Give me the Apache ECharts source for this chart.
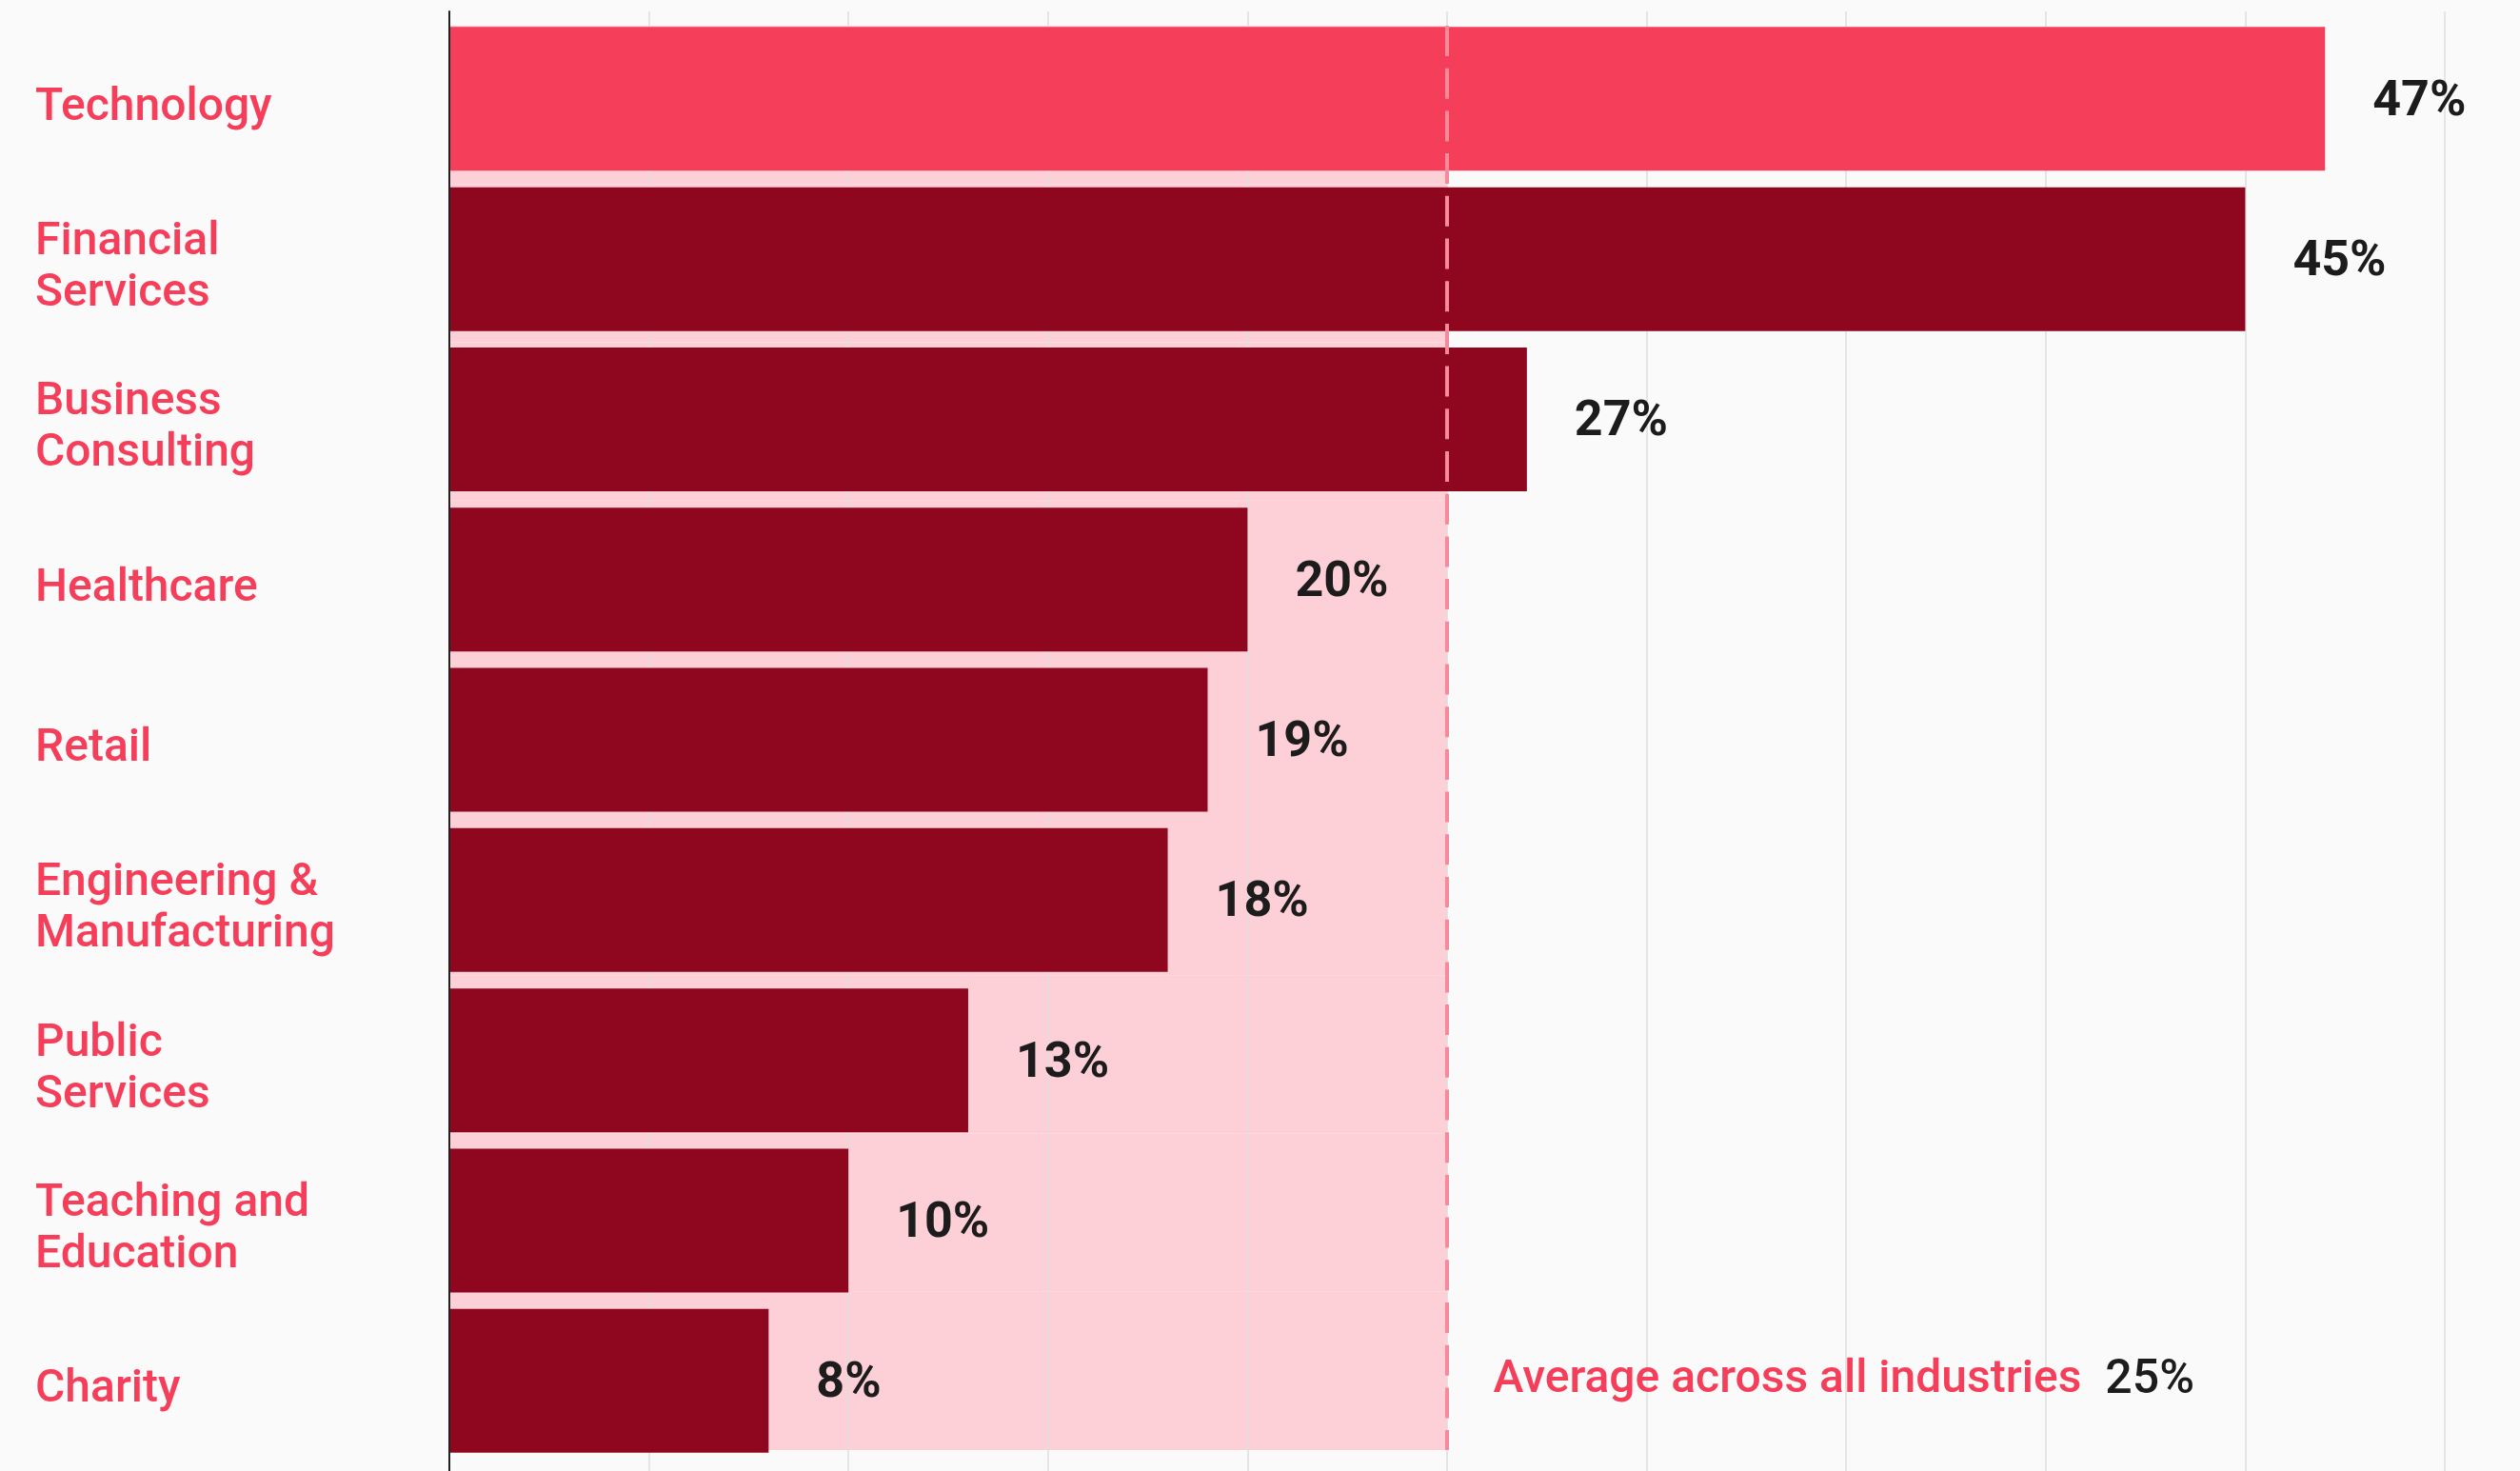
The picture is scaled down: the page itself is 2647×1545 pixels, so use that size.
<!DOCTYPE html>
<html>
<head>
<meta charset="utf-8">
<script src="https://cdn.jsdelivr.net/npm/echarts@6/dist/echarts.min.js"></script>
<style>
  html, body { margin: 0; padding: 0; background: #fafafa; }
  #chart { width: 2647px; height: 1545px; }
</style>
</head>
<body>
<div id="chart"></div>
<script>
// Share of respondents by industry (%)
const categories = [
  'Technology',
  'Financial\nServices',
  'Business\nConsulting',
  'Healthcare',
  'Retail',
  'Engineering &\nManufacturing',
  'Public\nServices',
  'Teaching and\nEducation',
  'Charity'
];
const shares = [47, 45, 27, 20, 19, 18, 13, 10, 8];
const averageShare = 25;
const averageLabel = 'Average across all industries';

// Value axis: 0–50 with a gridline every 5
const axisMin = 0;
const axisMax = 50;
const axisStep = 5;

const FONT = 'Roboto, "Noto Sans", sans-serif';
const ACCENT = '#f53e5a';
const DARK = '#8e071e';
const BAND = '#fdcfd6';
const DASH = '#f8899b';
const INK = '#1c1c1c';

const chart = echarts.init(document.getElementById('chart'), null, { renderer: 'canvas' });

const hiddenValueAxis = (gridIndex) => ({
  gridIndex, type: 'value', min: axisMin, max: axisMax, interval: axisStep, show: false
});

chart.setOption({
  backgroundColor: '#fafafa',
  animation: false,
  grid: [
    { left: 472, right: 79, top: 12, bottom: 0 },     // gridlines + axis line
    { left: 472, right: 79, top: 19.7, bottom: 10.6 }, // bars
    { left: 472, right: 79, top: 27, bottom: 22 },     // average band
    { left: 472, right: 79, top: 29.7, bottom: 0.6 }   // industry names
  ],
  xAxis: [
    {
      gridIndex: 0, type: 'value', min: axisMin, max: axisMax, interval: axisStep, z: 1,
      axisLine: { show: false }, axisTick: { show: false }, axisLabel: { show: false },
      splitLine: { show: true, lineStyle: { color: '#dedede', width: 1.5 } }
    },
    hiddenValueAxis(1),
    hiddenValueAxis(2),
    hiddenValueAxis(3)
  ],
  yAxis: [
    {
      gridIndex: 0, type: 'category', data: categories, inverse: true, z: 20,
      axisLine: { show: true, lineStyle: { color: '#222222', width: 2 } },
      axisTick: { show: false }, axisLabel: { show: false }, splitLine: { show: false }
    },
    { gridIndex: 1, type: 'category', data: categories, inverse: true, show: false },
    { gridIndex: 2, type: 'category', data: categories, inverse: true, show: false },
    {
      gridIndex: 3, type: 'category', data: categories, inverse: true,
      axisLine: { show: false }, axisTick: { show: false }, splitLine: { show: false },
      axisLabel: {
        margin: 435, align: 'left', color: ACCENT,
        fontFamily: FONT, fontSize: 48, fontWeight: 500, lineHeight: 54
      }
    }
  ],
  series: [
    {
      // shaded band up to the all-industry average
      type: 'bar', xAxisIndex: 2, yAxisIndex: 2, silent: true, z: 0,
      barCategoryGap: '0%',
      itemStyle: { color: BAND },
      data: categories.map(() => averageShare)
    },
    {
      type: 'bar', xAxisIndex: 1, yAxisIndex: 1, z: 2,
      barCategoryGap: '10.3%',
      data: shares.map((v, i) => ({ value: v, itemStyle: { color: i === 0 ? ACCENT : DARK } })),
      label: {
        show: true, position: 'right', distance: 50, offset: [0, 4],
        formatter: '{c}%', color: INK,
        fontFamily: FONT, fontSize: 52, fontWeight: 'bold'
      }
    },
    {
      // dashed average marker
      type: 'line', xAxisIndex: 2, yAxisIndex: 2, z: 10, silent: true,
      data: [],
      markLine: {
        silent: true, symbol: 'none', z: 10,
        label: { show: false },
        lineStyle: { color: DASH, width: 4, type: [32, 12.7], opacity: 1 },
        data: [{ xAxis: averageShare }]
      }
    },
    {
      // caption next to the average marker, on the last row
      type: 'scatter', xAxisIndex: 1, yAxisIndex: 1, z: 10, silent: true,
      symbolSize: 1,
      itemStyle: { color: 'transparent', opacity: 1 },
      data: [[averageShare, categories[categories.length - 1]]],
      label: {
        show: true, position: 'right', distance: 48, opacity: 1,
        formatter: '{a|' + averageLabel + '}{b|' + averageShare + '%}',
        rich: {
          a: { color: ACCENT, fontFamily: FONT, fontSize: 48, fontWeight: 500 },
          b: { color: INK, fontFamily: FONT, fontSize: 50, fontWeight: 500, padding: [0, 0, 0, 25] }
        }
      }
    }
  ]
});
</script>
</body>
</html>
